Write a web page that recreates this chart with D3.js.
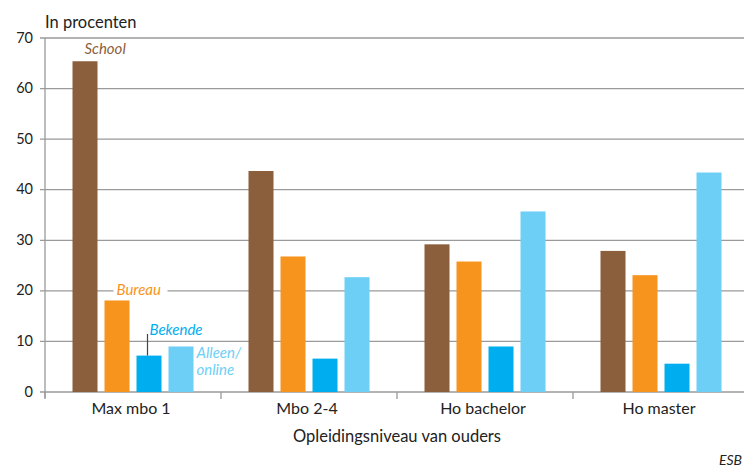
<!DOCTYPE html>
<html><head><meta charset="utf-8">
<script src="https://cdn.jsdelivr.net/npm/d3@7/dist/d3.min.js"></script>
<style>body{margin:0;background:#fff}svg{display:block}text{font-family:Lato,"Open Sans",sans-serif}</style>
</head><body>
<svg id="c" width="744" height="475"></svg>
<script>
const categories = ["Max mbo 1", "Mbo 2-4", "Ho bachelor", "Ho master"];
const seriesNames = ["School", "Bureau", "Bekende", "Alleen/online"];
const school  = [65.4, 43.7, 29.2, 27.9];
const bureau  = [18.1, 26.8, 25.8, 23.1];
const bekende = [7.2, 6.6, 9.0, 5.6];
const alleen  = [9.0, 22.7, 35.7, 43.4];
const yTicks = [0, 10, 20, 30, 40, 50, 60, 70];
const colors = ["#8B5E3C", "#F7941D", "#00AEEF", "#6DCFF6"];

const values = [school, bureau, bekende, alleen];
const data = categories.map((c, i) => ({cat: c, vals: values.map((s, j) => ({key: seriesNames[j], v: s[i]}))}));

const svg = d3.select("#c");
const x0 = d3.scaleBand().domain(categories).range([45, 749]).paddingInner(0).paddingOuter(0);
const x1 = d3.scaleBand().domain(seriesNames).range([27.5, 176 - 27.5]).paddingInner(7/32).paddingOuter(0);
const y = d3.scaleLinear().domain([0, 70]).range([392, 38]);

// gridlines
svg.append("g").selectAll("line").data(yTicks).join("line")
  .attr("x1", 40).attr("x2", 744).attr("y1", d => y(d)).attr("y2", d => y(d))
  .attr("stroke", "#9a9a9a").attr("stroke-width", 1.3);
// y tick labels
svg.append("g").selectAll("text").data(yTicks).join("text")
  .attr("x", 33).attr("y", d => y(d) + 4.5).attr("text-anchor", "end")
  .attr("font-size", 14.5).attr("fill", "#222").text(d => d);
// y axis line
svg.append("line").attr("x1", 45).attr("x2", 45).attr("y1", y(70)).attr("y2", 398)
  .attr("stroke", "#9a9a9a").attr("stroke-width", 1.3);
// x ticks
svg.append("g").selectAll("line").data(categories).join("line")
  .attr("x1", d => x0(d)).attr("x2", d => x0(d)).attr("y1", 392).attr("y2", 399)
  .attr("stroke", "#9a9a9a").attr("stroke-width", 1.3);

// bars
const g = svg.append("g").selectAll("g").data(data).join("g")
  .attr("transform", d => `translate(${x0(d.cat)},0)`);
g.selectAll("rect").data(d => d.vals).join("rect")
  .attr("x", d => x1(d.key)).attr("width", x1.bandwidth())
  .attr("y", d => y(d.v)).attr("height", d => y(0) - y(d.v))
  .attr("fill", (d, i) => colors[i]);

// x category labels
svg.append("g").selectAll("text").data(categories).join("text")
  .attr("x", d => x0(d) + x0.bandwidth() / 2 - 2).attr("y", 414).attr("text-anchor", "middle")
  .attr("font-size", 16).attr("fill", "#222").text(d => d);

svg.append("text").attr("x", 397).attr("y", 442).attr("text-anchor", "middle")
  .attr("font-size", 16.5).attr("fill", "#222").text("Opleidingsniveau van ouders");
svg.append("text").attr("x", 45).attr("y", 28)
  .attr("font-size", 16.5).attr("fill", "#222").text("In procenten");
svg.append("text").attr("x", 742).attr("y", 465).attr("text-anchor", "end").attr("font-style", "italic")
  .attr("font-size", 14).attr("fill", "#222").text("ESB");

// series labels in first group
const gx = x0(categories[0]);
const lab = (t, xx, yy, c) => svg.append("text").attr("x", xx).attr("y", yy)
  .attr("font-style", "italic").attr("font-size", 15).attr("fill", c).text(t);
lab("School", gx + x1("School") + 12, y(school[0]) - 7, colors[0]);
svg.append("rect").attr("x", gx + x1("Bureau") + 9).attr("y", 282).attr("width", 54).attr("height", 16).attr("fill", "#fff");
lab("Bureau", gx + x1("Bureau") + 12, 295, colors[1]);
svg.append("line").attr("x1", gx + x1("Bekende") + 11).attr("x2", gx + x1("Bekende") + 11)
  .attr("y1", 334).attr("y2", y(bekende[0])).attr("stroke", "#444").attr("stroke-width", 1.2);
lab("Bekende", gx + x1("Bekende") + 13, 335, colors[2]);
lab("Alleen/", gx + x1("Alleen/online") + 28, 358, colors[3]);
lab("online", gx + x1("Alleen/online") + 28, 375, colors[3]);
</script>
</body></html>
